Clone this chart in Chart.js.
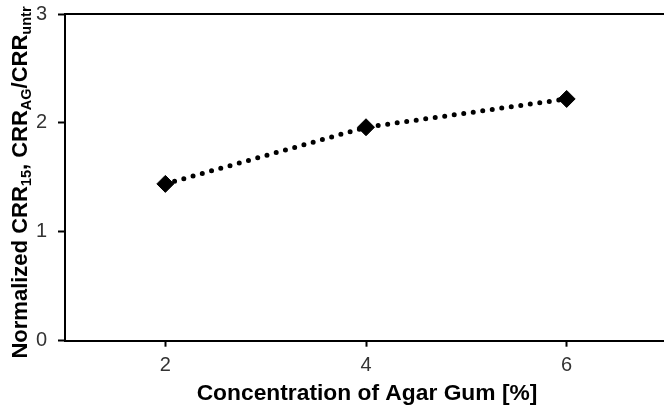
<!DOCTYPE html>
<html>
<head>
<meta charset="utf-8">
<script src="https://cdn.jsdelivr.net/npm/chart.js@4/dist/chart.umd.min.js"></script>
<style>
  html, body { margin: 0; padding: 0; background: #fff; overflow: hidden; }
  canvas { display: block; }
</style>
</head>
<body>
<canvas id="c" width="667" height="411"></canvas>
<script>
// ---- data ----
const concentrations = [2, 4, 6];            // Agar gum concentration [%]
const normalizedCRR = [1.44, 1.96, 2.22];   // Normalized CRR15, CRR_AG/CRR_untr
const xTickValues = [2, 4, 6];
const yTickValues = [0, 1, 2, 3];
const xTitle = 'Concentration of Agar Gum [%]';
// y title pieces: [text, isSubscript]
const yTitleParts = [
  ['Normalized CRR', false], ['15', true], [', CRR', false], ['AG', true],
  ['/CRR', false], ['untr', true]
];

const FONT = '"Liberation Sans", Arial, sans-serif';

const titlesPlugin = {
  id: 'titles',
  afterDraw(chart) {
    const ctx = chart.ctx;
    const area = chart.chartArea;
    ctx.save();
    // x title
    ctx.fillStyle = '#000';
    ctx.font = 'bold 22.8px ' + FONT;
    ctx.textAlign = 'center';
    ctx.textBaseline = 'alphabetic';
    ctx.fillText(xTitle, (area.left + area.right) / 2 + 1, 400);
    // y title, rotated, with subscripts
    const mainFont = 'bold 22px ' + FONT;
    const subFont = 'bold 14.5px ' + FONT;
    let total = 0;
    const widths = yTitleParts.map(([t, sub]) => {
      ctx.font = sub ? subFont : mainFont;
      const w = ctx.measureText(t).width;
      total += w;
      return w;
    });
    ctx.translate(27, 182.5);
    ctx.rotate(-Math.PI / 2);
    ctx.textAlign = 'left';
    let x = -total / 2;
    yTitleParts.forEach(([t, sub], i) => {
      ctx.font = sub ? subFont : mainFont;
      ctx.fillText(t, x, sub ? 4 : 0);
      x += widths[i];
    });
    ctx.restore();
  }
};

function noPad(s) {
  s.paddingTop = 0; s.paddingBottom = 0; s.paddingLeft = 0; s.paddingRight = 0;
}

new Chart(document.getElementById('c'), {
  type: 'scatter',
  data: {
    datasets: [{
      data: concentrations.map((x, i) => ({ x: x, y: normalizedCRR[i] })),
      showLine: true,
      borderColor: '#000',
      borderWidth: 5,
      borderDash: [0, 9.6],
      borderCapStyle: 'round',
      pointStyle: 'rectRot',
      pointRadius: 8.5,
      pointHoverRadius: 8.5,
      pointBackgroundColor: '#000',
      pointBorderColor: '#000',
      pointBorderWidth: 1
    }]
  },
  options: {
    responsive: false,
    animation: false,
    events: [],
    layout: { autoPadding: false, padding: { top: 14, left: 0, right: 0, bottom: 0 } },
    plugins: { legend: { display: false }, tooltip: { enabled: false } },
    scales: {
      x: {
        type: 'linear',
        min: 1, max: 7,
        afterBuildTicks: s => { s.ticks = xTickValues.map(v => ({ value: v })); },
        afterFit: s => { s.height = 70.3; noPad(s); },
        grid: { display: true, drawOnChartArea: false, drawTicks: true, tickLength: 6, tickColor: '#000', tickWidth: 2 },
        border: { display: true, color: '#000', width: 2 },
        ticks: { color: '#333', font: { family: FONT, size: 20 }, padding: 7, maxRotation: 0 }
      },
      x2: {
        type: 'linear',
        position: 'top',
        min: 1, max: 7,
        afterFit: s => { s.height = 0; noPad(s); },
        grid: { display: false },
        border: { display: true, color: '#000', width: 2 },
        ticks: { display: false }
      },
      y: {
        min: 0, max: 3,
        afterBuildTicks: s => { s.ticks = yTickValues.map(v => ({ value: v })); },
        afterFit: s => { s.width = 65; noPad(s); },
        grid: { display: true, drawOnChartArea: false, drawTicks: true, tickLength: 7, tickColor: '#000', tickWidth: 2 },
        border: { display: true, color: '#000', width: 2 },
        ticks: { color: '#333', font: { family: FONT, size: 20 }, padding: 11 }
      }
    }
  },
  plugins: [titlesPlugin]
});
</script>
</body>
</html>
